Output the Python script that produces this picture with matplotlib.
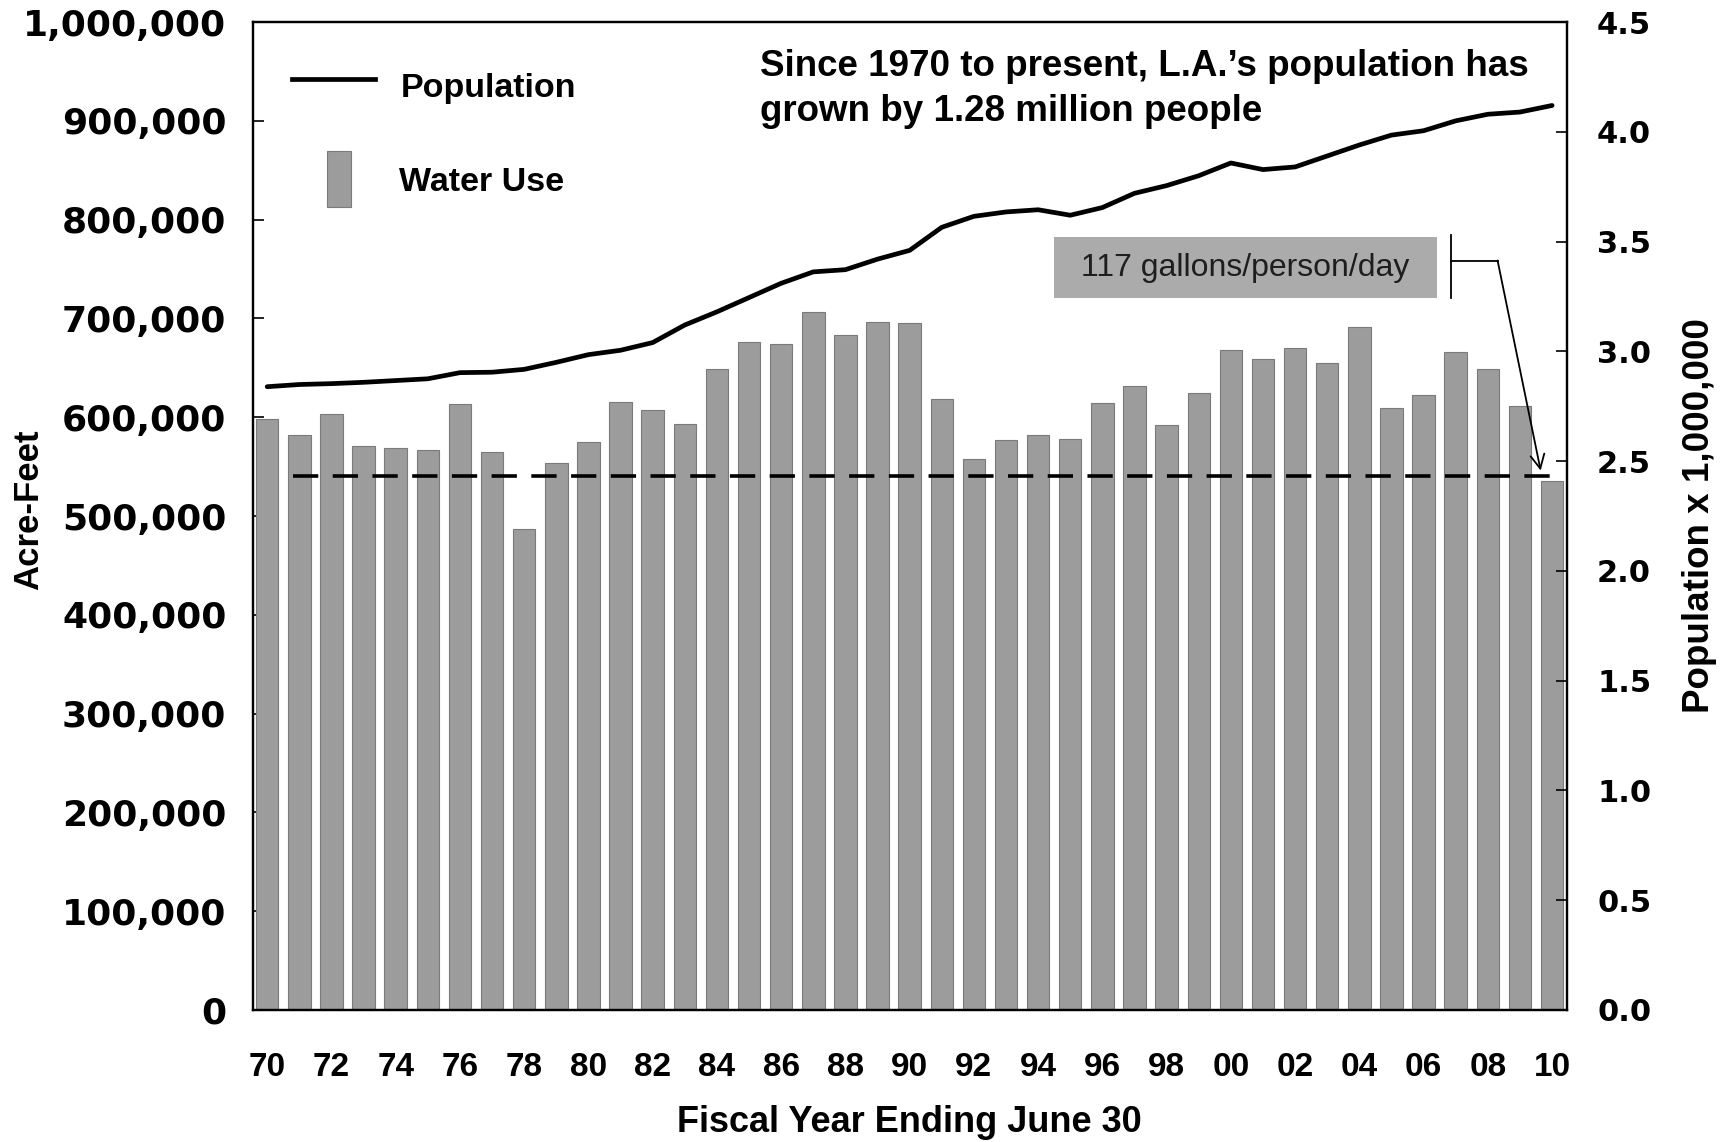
import matplotlib
matplotlib.use("Agg")
import matplotlib.pyplot as plt
from matplotlib.patches import Rectangle
from matplotlib.ticker import FuncFormatter

# fiscal years and values
years = list(range(1970, 2011))
water_use = [598000, 582000, 603000, 571000, 569000, 567000, 613000, 565000, 487000, 554000,
             575000, 615000, 607000, 593000, 649000, 676000, 674000, 706000, 683000, 696000,
             695000, 618000, 558000, 577000, 582000, 578000, 614000, 632000, 592000, 625000,
             668000, 659000, 670000, 655000, 691000, 609000, 622000, 666000, 649000, 611000,
             535000]
population = [2.839, 2.849, 2.853, 2.859, 2.867, 2.875, 2.903, 2.905, 2.918, 2.950,
              2.985, 3.005, 3.040, 3.120, 3.180, 3.245, 3.310, 3.362, 3.372, 3.420,
              3.460, 3.565, 3.615, 3.635, 3.645, 3.620, 3.655, 3.720, 3.755, 3.800,
              3.858, 3.828, 3.840, 3.890, 3.940, 3.985, 4.005, 4.050, 4.080, 4.090,
              4.120]
ref_level = 540000
ref_start, ref_end = 1970.8, 2010.2
tick_years = years[::2]
tick_labels = ['70', '72', '74', '76', '78', '80', '82', '84', '86', '88', '90',
               '92', '94', '96', '98', '00', '02', '04', '06', '08', '10']
left_ticks = list(range(0, 1000001, 100000))
right_ticks = [0.0, 0.5, 1.0, 1.5, 2.0, 2.5, 3.0, 3.5, 4.0, 4.5]

arial = 'Liberation Sans'
verdana = 'DejaVu Sans'
bar_col = '#9c9c9c'

fig = plt.figure(figsize=(17.31, 11.42), dpi=100)
ax = fig.add_axes([0.146, 0.1156, 0.759, 0.8651])

ax.bar(years, water_use, width=0.7, color=bar_col, edgecolor='#7a7a7a', linewidth=0.8, zorder=2)
ax.plot([ref_start, ref_end], [ref_level, ref_level], color='black', lw=2.6,
        dashes=(7.0, 4.0), zorder=3)

ax.set_xlim(1969.55, 2010.45)
ax.set_ylim(0, 1000000)
ax.set_yticks(left_ticks)
ax.yaxis.set_major_formatter(FuncFormatter(lambda v, p: f'{int(v):,}'))
ax.set_xticks(tick_years)
ax.set_xticklabels(tick_labels, fontfamily=arial, fontweight='bold', fontsize=24)
ax.tick_params(axis='x', length=0, pad=30)
ax.tick_params(axis='y', direction='in', length=8, width=1.2, pad=19)
for t in ax.get_yticklabels():
    t.set_fontfamily(verdana)
    t.set_fontweight('bold')
    t.set_fontsize(26)
for s in ax.spines.values():
    s.set_linewidth(1.6)

ax.set_ylabel('Acre-Feet', fontfamily=arial, fontweight='bold', fontsize=25)
ax.yaxis.set_label_coords(-0.158, 0.506)
ax.set_xlabel('Fiscal Year Ending June 30', fontfamily=arial, fontweight='bold', fontsize=26)
ax.xaxis.set_label_coords(0.5, -0.114)
ax.xaxis.label.set_va('center')

ax2 = ax.twinx()
ax2.plot(years, population, color='black', lw=3.4, solid_capstyle='round',
         solid_joinstyle='round', zorder=4)
ax2.set_ylim(0, 4.5)
ax2.set_yticks(right_ticks)
ax2.yaxis.set_major_formatter(FuncFormatter(lambda v, p: f'{v:.1f}'))
ax2.tick_params(axis='y', direction='in', length=8, width=1.2, pad=22)
for t in ax2.get_yticklabels():
    t.set_fontfamily(verdana)
    t.set_fontweight('bold')
    t.set_fontsize(22)
ax2.set_ylabel('Population x 1,000,000', fontfamily=arial, fontweight='bold',
               fontsize=26.5, labelpad=22)
for s in ax2.spines.values():
    s.set_linewidth(1.6)

# legend drawn by hand
ax2.plot([0.030, 0.093], [0.942, 0.942], transform=ax2.transAxes, color='black', lw=3.4)
ax2.text(0.1125, 0.933, 'Population', transform=ax2.transAxes, fontfamily=arial,
         fontweight='bold', fontsize=24.5, va='center', ha='left')
ax2.add_patch(Rectangle((0.0562, 0.813), 0.0184, 0.056, transform=ax2.transAxes,
                        facecolor=bar_col, edgecolor='#7a7a7a', lw=0.8))
ax2.text(0.1116, 0.838, 'Water Use', transform=ax2.transAxes, fontfamily=arial,
         fontweight='bold', fontsize=24.5, va='center', ha='left')

# headline note
fig.text(0.439, 0.942, 'Since 1970 to present, L.A.\u2019s population has', fontfamily=arial,
         fontweight='bold', fontsize=26.5, va='center', ha='left')
fig.text(0.439, 0.902, 'grown by 1.28 million people', fontfamily=arial,
         fontweight='bold', fontsize=26.5, va='center', ha='left')

# per-capita callout
ax2.add_patch(Rectangle((0.6098, 0.7206), 0.2916, 0.0614, transform=ax2.transAxes,
                        facecolor='#ababab', edgecolor='none', zorder=5))
ax2.text(0.7556, 0.751, '117 gallons/person/day', transform=ax2.transAxes, fontfamily=arial,
         fontsize=23, color='#1e1e1e', va='center', ha='center', zorder=6)
ax2.plot([0.9123, 0.9123], [0.7206, 0.7844], transform=ax2.transAxes, color='black', lw=1.3)
ax2.plot([0.9123, 0.9475], [0.7586, 0.7586], transform=ax2.transAxes, color='black', lw=1.3)
ax2.annotate('', xy=(0.9803, 0.546), xytext=(0.9475, 0.7586), xycoords='axes fraction',
             textcoords='axes fraction',
             arrowprops=dict(arrowstyle='->', color='black', lw=1.3, mutation_scale=25,
                             shrinkA=0, shrinkB=0))

fig.savefig('out.png', dpi=100)
